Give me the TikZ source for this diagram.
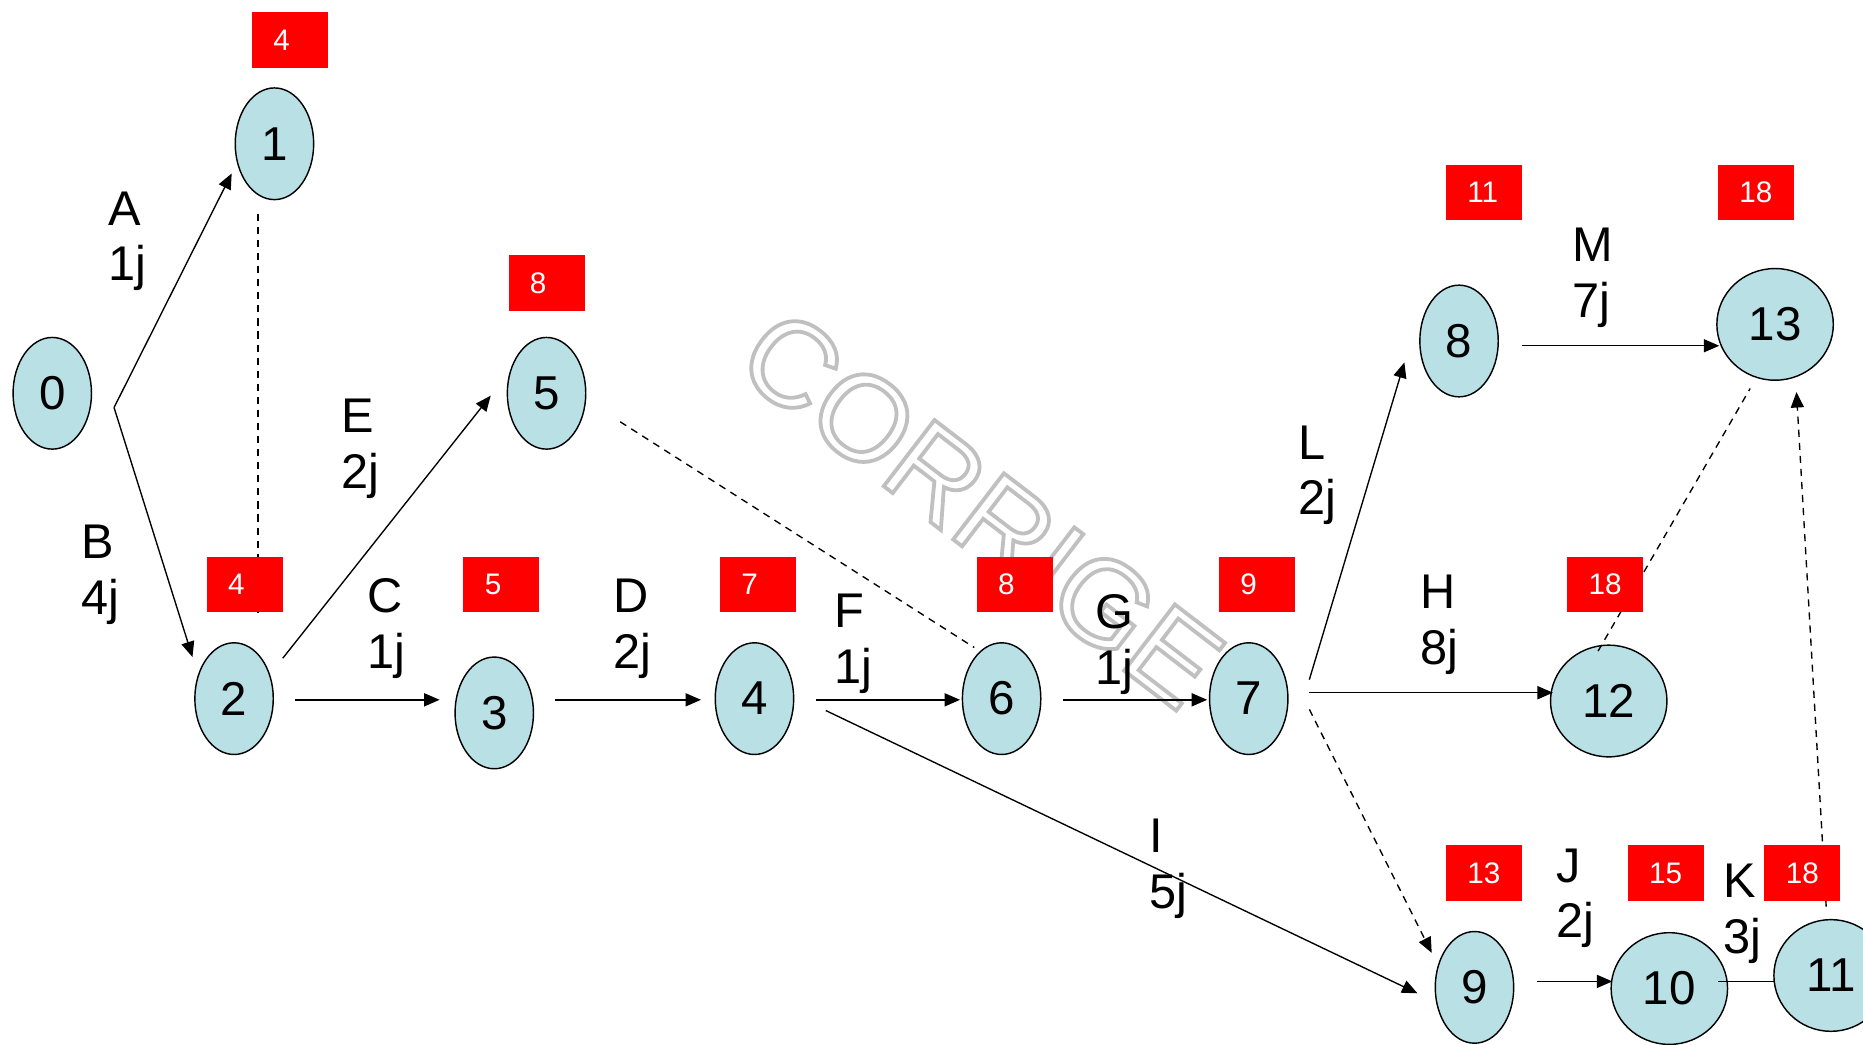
\documentclass[tikz,border=0pt]{standalone}
\usepackage{fontspec}
\setmainfont{Liberation Sans}
\usetikzlibrary{arrows.meta,calc,shapes.geometric}
\definecolor{nodefill}{RGB}{185,224,228}
\definecolor{wmgray}{RGB}{192,192,192}
\begin{document}
\begin{tikzpicture}[x=1pt,y=-1pt,
 ev/.style={ellipse,draw=black,line width=1.2pt,fill=nodefill,minimum width=66pt,minimum height=94pt,inner sep=0pt,font=\fontsize{40}{40}\selectfont},
 evw/.style={ev,minimum width=98pt},
 rb/.style={fill=red,minimum width=64pt,minimum height=47pt,inner sep=0pt,text=white,text width=28pt,align=left,font=\fontsize{25}{25}\selectfont},
 lab/.style={anchor=north west,align=left,inner sep=0pt,font=\fontsize{41}{47}\selectfont},
 arr/.style={line width=1.15pt,-{Triangle[length=13pt,width=11pt]}},
 ln/.style={line width=1.15pt},
 dsh/.style={line width=1.15pt,dash pattern=on 6pt off 5pt}]
\useasboundingbox (0,0) rectangle (1568,879);
% watermark
\node[rotate=-37.5,text=wmgray,inner sep=0pt,font=\fontsize{102}{102}\selectfont] (wm) at (826,428) {\special{pdf:literal direct 1 Tr 3.2 w}CORRIGE\special{pdf:literal direct 0 Tr}};
% events
\node[ev] (n0) at (44,331) {0};
\node[ev] (n1) at (231,121) {1};
\node[ev] (n2) at (197,588) {2};
\node[ev] (n3) at (416,600) {3};
\node[ev] (n4) at (635,588) {4};
\node[ev] (n5) at (460,331) {5};
\node[ev] (n6) at (843,588) {6};
\node[ev] (n7) at (1051,588) {7};
\node[ev] (n8) at (1228,287) {8};
\node[ev] (n9) at (1241,831) {9};
\node[evw] (n10) at (1405,832) {10};
\node[evw,minimum width=96pt] (n11) at (1541,821) {11};
\node[evw] (n12) at (1354,590) {12};
\node[evw] (n13) at (1494,273) {13};
% connectors
\coordinate (f0) at ($(n0)+(52,12)$);
\draw[arr] (f0) -- ($(n1)+(-36,25)$);
\draw[arr] (f0) -- ($(n2)+(-35,-35)$);
\draw[dsh] ($(n1)+(-14,59)$) -- ($(n2)+(20,-72)$);
\draw[arr] ($(n2)+(41,-34)$) -- ($(n5)+(-47,2)$);
\draw[arr] ($(n2)+(51,1)$) -- ($(n3)+(-46,-11)$);
\draw[arr] ($(n3)+(51,-11)$) -- ($(n4)+(-45,1)$);
\draw[arr] ($(n4)+(52,1)$) -- ($(n6)+(-35,1)$);
\draw[arr] ($(n4)+(60,10)$) -- ($(n9)+(-48,5)$);
\draw[dsh] ($(n5)+(62,24)$) -- ($(n6)+(-23,-43)$);
\draw[arr] ($(n6)+(52,1)$) -- ($(n7)+(-35,1)$);
\draw[arr] ($(n7)+(51,-16)$) -- ($(n8)+(-46,18)$);
\draw[arr] ($(n7)+(51,-5)$) -- ($(n12)+(-47,-7)$);
\draw[arr,dash pattern=on 6pt off 5pt] ($(n7)+(51,9)$) -- ($(n9)+(-36,-29)$);
\draw[arr] ($(n8)+(53,4)$) -- ($(n13)+(-47,18)$);
\draw[dsh] ($(n12)+(-9,-42)$) -- ($(n13)+(-21,54)$);
\draw[arr,dash pattern=on 6pt off 5pt] ($(n11)+(-4,-58)$) -- ($(n13)+(18,57)$);
\draw[arr] ($(n9)+(53,-5)$) -- ($(n10)+(-48,-6)$);
\draw[ln] ($(n10)+(41,-6)$) -- ($(n11)+(-47,5)$);
% red boxes
\node[rb] (r1) at (244,34) {4};
\node[rb] (r5) at (460,238) {8};
\node[rb] (r2) at (206,492) {4};
\node[rb] (r3) at (422,492) {5};
\node[rb] (r4) at (638,492) {7};
\node[rb] (r6) at (854,492) {8};
\node[rb] (r7) at (1058,492) {9};
\node[rb] (r8) at (1249,162) {11};
\node[rb] (r13) at (1478,162) {18};
\node[rb] (r12) at (1351,492) {18};
\node[rb] (r9) at (1249,735) {13};
\node[rb] (r10) at (1402,735) {15};
\node[rb] (r11) at (1517,735) {18};
% labels
\node[lab] (lA) at (91,161) {A\\1j};
\node[lab] (lB) at (68,442) {B\\4j};
\node[lab] (lE) at (287,336) {E\\2j};
\node[lab] (lC) at (309,487) {C\\1j};
\node[lab] (lD) at (516,487) {D\\2j};
\node[lab] (lF) at (702,500) {F\\1j};
\node[lab] (lG) at (922,500) {G\\1j};
\node[lab] (lI) at (967,689) {I\\5j};
\node[lab] (lL) at (1093,358) {L\\2j};
\node[lab] (lH) at (1195,484) {H\\8j};
\node[lab] (lM) at (1323,192) {M\\7j};
\node[lab] (lJ) at (1310,714) {J\\2j};
\node[lab] (lK) at (1450,727) {K\\3j};
\end{tikzpicture}
\end{document}
